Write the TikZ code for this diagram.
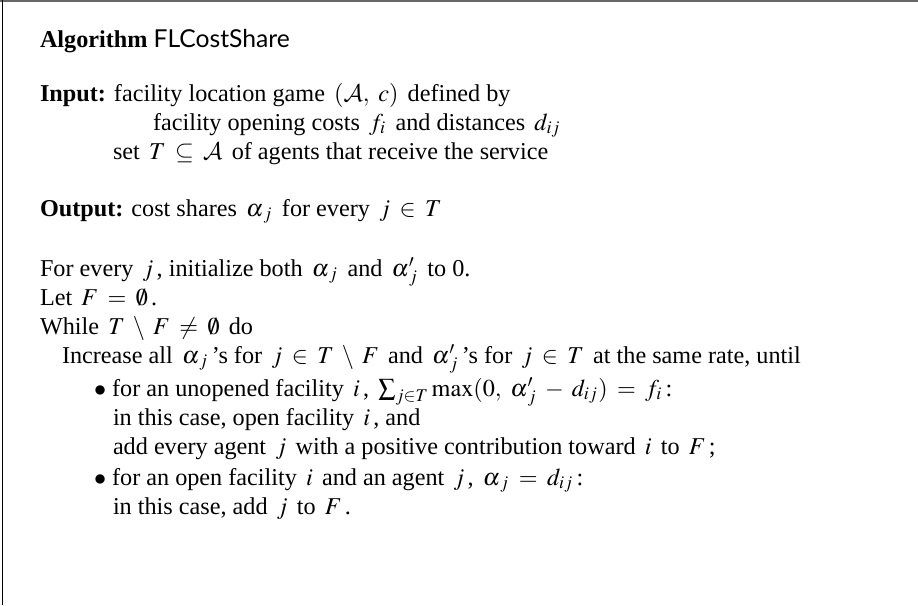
\documentclass[tikz,border=0pt]{standalone}
\usepackage{mathptmx}
\usepackage{fontspec}
\setmainfont{Liberation Serif}
\newfontfamily\algfont[Scale=1.02]{Lato}
\DeclareMathAlphabet{\mathcal}{OMS}{cmsy}{m}{n}
\newcommand\mt[1]{\hspace{1.3pt}$#1$\hspace{1.3pt}}
\begin{document}
\begin{tikzpicture}[x=0.4132pt,y=-0.4132pt,
  txt/.style={anchor=base west,inner sep=0pt,outer sep=0pt,
    font=\fontsize{10}{12}\selectfont}]
\thickmuskip=7mu plus 3mu\relax
\medmuskip=6mu plus 2mu\relax
\useasboundingbox (0,0) rectangle (918,605);
\fill[white] (0,0) rectangle (918,605);
\coordinate (tl) at (0,0.8);
\coordinate (tr) at (918,0.8);
\coordinate (lt) at (2.5,0);
\coordinate (lb) at (2.5,605);
\draw[line width=0.6pt,black!60] (tl) -- (tr);
\draw[line width=0.6pt,black] (lt) -- (lb);
\node[txt] (algo) at (40,47) {\textbf{Algorithm} {\algfont FLCostShare}};
\node[txt] (in1) at (40,101) {\textbf{Input:} facility location game \mt{(\mathcal{A},\ c)} defined by};
\node[txt] (in2) at (153,130) {facility opening costs \mt{f_i} and distances \mt{d_{ij}}};
\node[txt] (in3) at (113,159) {set \mt{T \subseteq \mathcal{A}} of agents that receive the service};
\node[txt] (out) at (40,216) {\textbf{Output:} cost shares \mt{\alpha_{\,j}} for every \mt{j \in T}};
\node[txt] (l1) at (40,276) {For every \mt{j}, initialize both \mt{\alpha_{\,j}} and \mt{\alpha'_{\,j}} to 0.};
\node[txt] (l2) at (40,305) {Let \mt{F = \emptyset}.};
\node[txt] (l3) at (40,334) {While \mt{T \setminus F \neq \emptyset} do};
\node[txt] (l4) at (62,363) {Increase all \mt{\alpha_{\,j}}’s for \mt{j \in T \setminus F} and \mt{\alpha'_{\,j}}’s for \mt{j \in T} at the same rate, until};
\node[txt] (l5) at (94,396) {$\bullet$ for an unopened facility \mt{i}, \mt{\sum_{j\in T} \max(0,\ \alpha'_{\,j} - d_{ij}) = f_i}:};
\node[txt] (l6) at (113,425) {in this case, open facility \mt{i}, and};
\node[txt] (l7) at (113,454) {add every agent \mt{j} with a positive contribution toward \mt{i} to \mt{F};};
\node[txt] (l8) at (94,485) {$\bullet$ for an open facility \mt{i} and an agent \mt{j}, \mt{\alpha_{\,j} = d_{ij}}:};
\node[txt] (l9) at (113,514) {in this case, add \mt{j} to \mt{F}.};
\end{tikzpicture}
\end{document}
